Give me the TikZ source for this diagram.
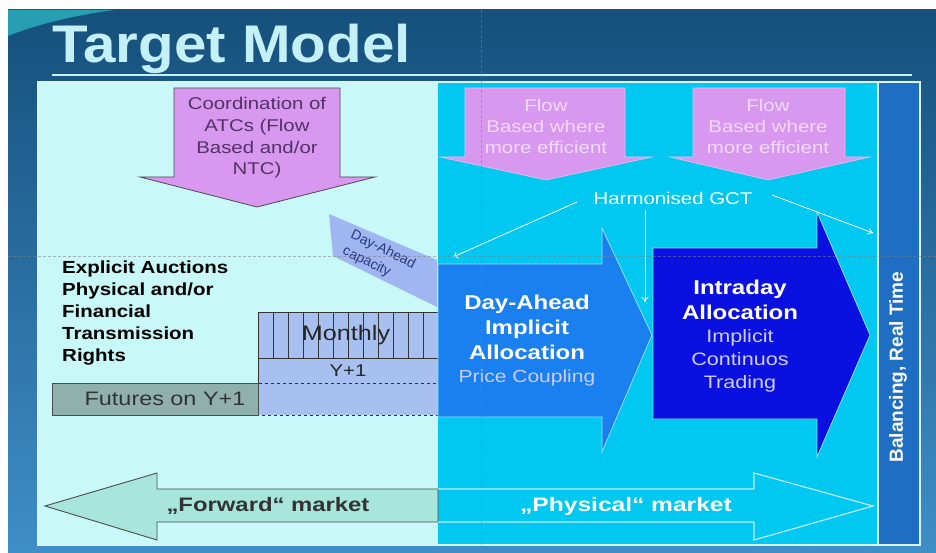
\documentclass[tikz,border=0pt]{standalone}
\usepackage{fontspec}
\setmainfont{Liberation Sans}
\usepackage{xcolor}
\usepackage{tikz}
\usetikzlibrary{positioning, arrows.meta, calc}

\definecolor{slidetop}{RGB}{22,80,124}
\definecolor{slidebot}{RGB}{62,142,200}
\definecolor{swoosh}{RGB}{40,158,178}
\definecolor{titlecol}{RGB}{196,240,248}
\definecolor{leftpanel}{RGB}{200,248,248}
\definecolor{rightpanel}{RGB}{0,200,240}
\definecolor{barblue}{RGB}{30,110,196}
\definecolor{purp}{RGB}{216,152,240}
\definecolor{coordtxt}{RGB}{82,50,104}
\definecolor{flowtxt}{RGB}{242,218,255}
\definecolor{dablue}{RGB}{26,128,240}
\definecolor{idblue}{RGB}{10,16,224}
\definecolor{idtxt}{RGB}{204,204,255}
\definecolor{capblue}{RGB}{160,182,240}
\definecolor{captxt}{RGB}{40,56,130}
\definecolor{boxblue}{RGB}{168,192,240}
\definecolor{futgray}{RGB}{143,176,172}
\definecolor{fwdgreen}{RGB}{168,230,220}

\newcommand{\fsz}[2]{\fontsize{#1}{#2}\selectfont}

\tikzset{
  txt/.style={inner sep=0pt, align=center, xscale=1.2},
  bigarrow/.style={draw=rightpanel!45!white, line width=0.8pt},
  downarrow/.style={fill=purp, draw=purp!60!white, line width=0.6pt},
  gctline/.style={draw=white, line width=0.8pt, -{To[length=5pt,width=7pt]}},
  guide/.style={draw=gray, opacity=0.55, line width=0.6pt, dash pattern=on 3pt off 2pt},
}

\begin{document}
\begin{tikzpicture}[x=1pt, y=-1pt]
\useasboundingbox (0,0) rectangle (936,553);
\fill[white] (0,0) rectangle (936,553);
\shade[top color=slidetop, bottom color=slidebot] (8,10) rectangle (936,553);
\fill[swoosh] (8,10) -- (114,10) .. controls (70,16) and (32,26) .. (8,36) -- cycle;

% title
\node[inner sep=0pt, anchor=base west, xscale=1.1, text=titlecol, font=\bfseries\fsz{53}{60}] (title) at (52,63) {Target Model};
\draw[titlecol, line width=2.5pt] (52,75) -- (912,75);

% panels
\fill[leftpanel] (38,82) rectangle (438,545);
\fill[rightpanel] (438,82) rectangle (878,545);
\fill[barblue] (878,82) rectangle (920,545);
\draw[white!85!cyan, line width=1.2pt] (38,82) rectangle (920,545);
\draw[white!85!cyan, line width=1.2pt] (878,82) -- (878,545);

% top arrows
\draw[fill=purp, draw=gray!60!black, line width=0.8pt] (174,88) -- (340,88) -- (340,177) -- (375,177) -- (257,207) -- (140,177) -- (174,177) -- cycle;
\node[txt, text=coordtxt, font=\fsz{17}{21.7}] (coord) at (257,138) {Coordination of\\ATCs (Flow\\Based and/or\\NTC)};

\draw[downarrow] (465,88) -- (625,88) -- (625,157) -- (652,157) -- (546,180) -- (440,157) -- (465,157) -- cycle;
\node[txt, text=flowtxt, font=\fsz{17}{21}] (flowda) at (546,126) {Flow\\Based where\\more efficient};
\draw[downarrow] (693,88) -- (845,88) -- (845,157) -- (870,157) -- (768,180) -- (670,157) -- (693,157) -- cycle;
\node[txt, text=flowtxt, font=\fsz{17}{21}] (flowid) at (768,126) {Flow\\Based where\\more efficient};

% capacity and explicit auctions
\fill[capblue] (329,214) -- (437,260) -- (437,307) -- (333,256) -- cycle;
\node[inner sep=0pt, rotate=-26, text=captxt, font=\fsz{14}{18}, align=left] (cap) at (379,258) {Day-Ahead\\capacity};

\node[inner sep=0pt, anchor=west, align=left, xscale=1.17, font=\bfseries\fsz{17.5}{22}] (explicit) at (62,313) {Explicit Auctions\\Physical and/or\\Financial\\Transmission\\Rights};

\fill[boxblue] (258,312) rectangle (438,358);
\foreach \i in {0,...,10}
  \draw[black!80, line width=0.7pt] ({273+15*\i},312) -- ({273+15*\i},358);
\draw[black!80, line width=0.8pt] (258,312) rectangle (438,358);
\node[txt, text=black!85, font=\fsz{21}{24}] (monthly) at (346,335) {Monthly};
\draw[fill=boxblue, draw=black!80, line width=0.8pt] (258,358) rectangle (438,383);
\node[txt, text=black!85, font=\fsz{17}{20}] (yone) at (348,371) {Y+1};
\draw[fill=boxblue, draw=black!80, line width=0.8pt, dashed] (258,383) rectangle (438,415);
\draw[fill=futgray, draw=black!70, line width=0.8pt] (52,383) rectangle (258,415);
\node[txt, text=black!80, font=\fsz{19.5}{22}] (futures) at (165,399) {Futures on Y+1};

% allocation arrows
\draw[bigarrow, fill=dablue] (438,264) -- (602,264) -- (602,228) -- (652,335) -- (602,452) -- (602,417) -- (438,417) -- cycle;
\node[txt, text=white, font=\bfseries\fsz{20}{25}] (datitle) at (527,327) {Day-Ahead\\Implicit\\Allocation};
\node[txt, text=idtxt, font=\fsz{17.5}{20}, below=10pt of datitle] (dasub) {Price Coupling};

\draw[bigarrow, fill=idblue] (653,248) -- (817,248) -- (817,212) -- (870,335) -- (817,457) -- (817,419) -- (653,419) -- cycle;
\node[txt, text=white, font=\bfseries\fsz{20}{25}] (idtitle) at (740,300) {Intraday\\Allocation};
\node[txt, text=idtxt, font=\fsz{18}{23}, below=9pt of idtitle] (idsub) {Implicit\\Continuos\\Trading};

% gate closure
\node[txt, text=white, font=\fsz{17}{20}] (gct) at (673,198) {Harmonised GCT};
\coordinate (gctda) at (453,257);
\coordinate (gctid) at (645,302);
\coordinate (gctbal) at (873,233);
\draw[gctline] (577,202) -- (gctda);
\draw[gctline] (645,210) -- (gctid);
\draw[gctline] (772,195) -- (gctbal);

\node[inner sep=0pt, rotate=90, text=white, font=\bfseries\fsz{19}{22}] (balance) at (898,367) {Balancing, Real Time};

% market arrows
\draw[fill=fwdgreen, draw=gray!60!black, line width=0.9pt] (438,489) -- (157,489) -- (157,473) -- (45,506) -- (157,540) -- (157,522) -- (438,522) -- cycle;
\node[txt, xscale=1.02, text=black!80, font=\bfseries\fsz{19.5}{22}] (fwd) at (268,506) {„Forward“ market};
\draw[draw=white!75!cyan, line width=1.2pt] (438,489) -- (754,489) -- (754,473) -- (873,506) -- (754,540) -- (754,522) -- (438,522);
\node[txt, xscale=1.05, text=white, font=\bfseries\fsz{19.5}{22}] (phys) at (626,506) {„Physical“ market};

% guides
\draw[guide] (8,256) -- (936,256);
\draw[guide] (481,10) -- (481,553);
\end{tikzpicture}
\end{document}
